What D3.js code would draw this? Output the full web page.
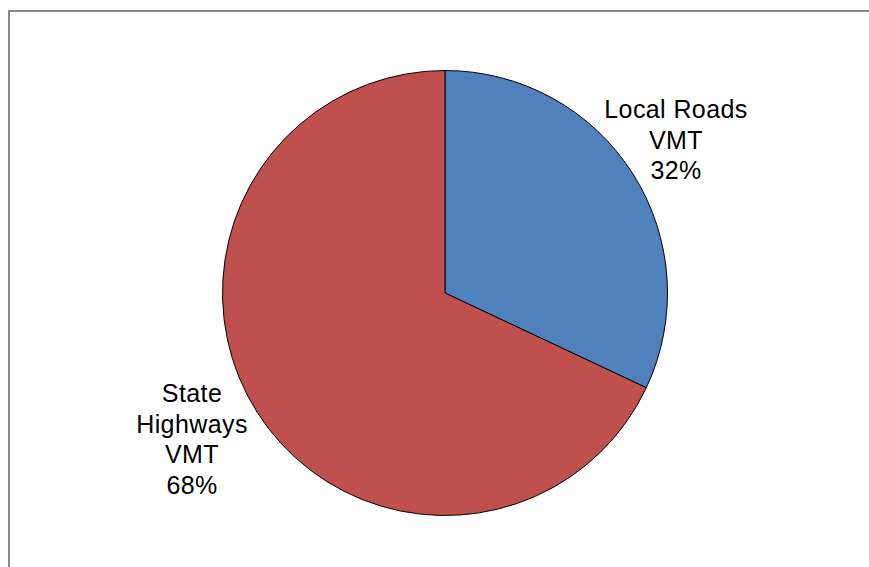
<!DOCTYPE html>
<html>
<head>
<meta charset="utf-8">
<script src="https://cdn.jsdelivr.net/npm/d3@7"></script>
<style>
  body { margin: 0; background: #fff; }
  svg { display: block; }
</style>
</head>
<body>
<div id="chartplace"></div>
<script>
// data
var categories = ["Local Roads VMT", "State Highways VMT"];
var values = [32, 68];
var colors = ["#4F81BD", "#C0504D"];
var labelLines = [["Local Roads", "VMT", "32%"], ["State", "Highways", "VMT", "68%"]];

var width = 869, height = 567;
var cx = 445, cy = 293, radius = 222.5;

var svg = d3.select("#chartplace").append("svg")
  .attr("width", width).attr("height", height);

// frame (only top and left edges visible in the picture)
svg.append("path")
  .attr("d", "M9,567 V11 H869")
  .attr("fill", "none")
  .attr("stroke", "#878787")
  .attr("stroke-width", 2);

var dataset = categories.map(function(c, i){
  return {legend: c, value: values[i], color: colors[i], lines: labelLines[i]};
});

var pie = d3.pie().sort(null).value(function(d){ return d.value; });
var arc = d3.arc().innerRadius(0).outerRadius(radius);

var g = svg.append("g").attr("transform", "translate(" + cx + "," + cy + ")");

g.selectAll(".fan")
  .data(pie(dataset))
  .enter()
  .append("path")
  .attr("class", "fan")
  .attr("d", arc)
  .attr("fill", function(d){ return d.data.color; })
  .attr("stroke", "#000")
  .attr("stroke-width", 1)
  .attr("stroke-linejoin", "round");

// labels outside the pie
var labelPos = [
  {x: 676, y: 118},   // first baseline of local roads
  {x: 192, y: 402}    // first baseline of state highways
];
var lineStep = 30.5;

dataset.forEach(function(d, i){
  var t = svg.append("text")
    .attr("text-anchor", "middle")
    .attr("font-family", "Liberation Sans, Arial, sans-serif")
    .attr("font-size", 25)
    .attr("letter-spacing", 0.4)
    .attr("fill", "#000");
  d.lines.forEach(function(line, j){
    t.append("tspan")
      .attr("x", labelPos[i].x)
      .attr("y", labelPos[i].y + j * lineStep)
      .text(line);
  });
});
</script>
</body>
</html>
